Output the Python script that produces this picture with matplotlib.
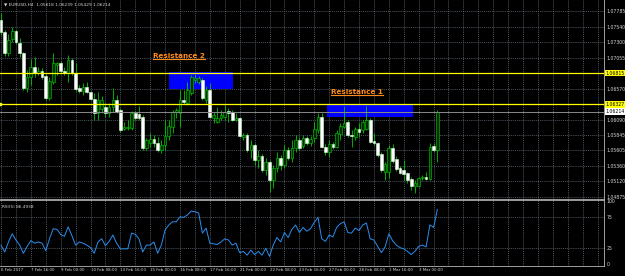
import matplotlib
matplotlib.use('Agg')
import matplotlib.pyplot as plt
import matplotlib.transforms as mtransforms
from matplotlib.patches import Rectangle
from matplotlib.lines import Line2D
import numpy as np

plt.rcParams['font.family'] = ['Liberation Sans Narrow', 'DejaVu Sans']

# EURUSD H4 candles, 6 Feb 2017 08:00 .. 3 Mar 2017 20:00
opens = [1.0765, 1.0746, 1.0713, 1.0735, 1.0748, 1.0729, 1.0713, 1.0658, 1.0676, 1.0691,
         1.0682, 1.0685, 1.0677, 1.0643, 1.0668, 1.0694, 1.0697, 1.0685, 1.0682, 1.0702,
         1.0682, 1.0658, 1.0654, 1.0660, 1.0652, 1.0641, 1.0619, 1.0625, 1.0629, 1.0619,
         1.0629, 1.0640, 1.0624, 1.0594, 1.0596, 1.0596, 1.0619, 1.0618, 1.0613, 1.0564,
         1.0572, 1.0579, 1.0572, 1.0561, 1.0569, 1.0583, 1.0597, 1.0621, 1.0619, 1.0640,
         1.0635, 1.0650, 1.0671, 1.0668, 1.0671, 1.0640, 1.0655, 1.0611, 1.0605, 1.0611,
         1.0613, 1.0622, 1.0621, 1.0608, 1.0611, 1.0582, 1.0585, 1.0561, 1.0569, 1.0546,
         1.0552, 1.0530, 1.0542, 1.0514, 1.0533, 1.0549, 1.0538, 1.0561, 1.0549, 1.0564,
         1.0577, 1.0568, 1.0580, 1.0572, 1.0580, 1.0593, 1.0613, 1.0566, 1.0558, 1.0571,
         1.0566, 1.0586, 1.0597, 1.0605, 1.0585, 1.0582, 1.0594, 1.0593, 1.0594, 1.0608,
         1.0575, 1.0572, 1.0555, 1.0527, 1.0527, 1.0564, 1.0547, 1.0533, 1.0530, 1.0525,
         1.0516, 1.0505, 1.0505, 1.0517, 1.0519, 1.0516, 1.0568, 1.05618]
highs = [1.0776, 1.0749, 1.0743, 1.0754, 1.0749, 1.0737, 1.0715, 1.0686, 1.0704, 1.0707,
         1.0691, 1.0690, 1.0680, 1.0676, 1.0713, 1.0699, 1.0701, 1.0691, 1.0710, 1.0705,
         1.0697, 1.0663, 1.0666, 1.0668, 1.0654, 1.0650, 1.0652, 1.0646, 1.0635, 1.0635,
         1.0658, 1.0647, 1.0627, 1.0605, 1.0608, 1.0622, 1.0622, 1.0630, 1.0616, 1.0580,
         1.0588, 1.0585, 1.0582, 1.0577, 1.0608, 1.0608, 1.0624, 1.0627, 1.0655, 1.0655,
         1.0668, 1.0679, 1.0680, 1.0677, 1.0674, 1.0661, 1.0666, 1.0621, 1.0629, 1.0624,
         1.0632, 1.0627, 1.0624, 1.0619, 1.0613, 1.0588, 1.0588, 1.0577, 1.0572, 1.0561,
         1.0555, 1.0549, 1.0546, 1.0538, 1.0558, 1.0553, 1.0569, 1.0566, 1.0577, 1.0585,
         1.0582, 1.0585, 1.0583, 1.0583, 1.0605, 1.0619, 1.0619, 1.0571, 1.0577, 1.0574,
         1.0593, 1.0604, 1.0630, 1.0608, 1.0593, 1.0597, 1.0604, 1.0608, 1.0630, 1.0611,
         1.0588, 1.0574, 1.0558, 1.0542, 1.0569, 1.0571, 1.0552, 1.0536, 1.0546, 1.0527,
         1.0519, 1.0514, 1.0519, 1.0522, 1.0527, 1.0572, 1.0572, 1.06239]
lows = [1.0741, 1.0708, 1.0708, 1.0730, 1.0727, 1.0707, 1.0655, 1.0652, 1.0663, 1.0676,
        1.0679, 1.0672, 1.0640, 1.0640, 1.0665, 1.0679, 1.0682, 1.0679, 1.0668, 1.0679,
        1.0654, 1.0650, 1.0647, 1.0650, 1.0640, 1.0608, 1.0608, 1.0619, 1.0613, 1.0613,
        1.0621, 1.0619, 1.0589, 1.0593, 1.0593, 1.0593, 1.0608, 1.0608, 1.0561, 1.0561,
        1.0566, 1.0566, 1.0558, 1.0557, 1.0561, 1.0577, 1.0588, 1.0611, 1.0597, 1.0633,
        1.0632, 1.0647, 1.0666, 1.0665, 1.0640, 1.0635, 1.0611, 1.0604, 1.0604, 1.0608,
        1.0608, 1.0605, 1.0607, 1.0607, 1.0582, 1.0577, 1.0558, 1.0549, 1.0538, 1.0533,
        1.0527, 1.0522, 1.0495, 1.0502, 1.0527, 1.0530, 1.0533, 1.0546, 1.0542, 1.0558,
        1.0561, 1.0564, 1.0569, 1.0568, 1.0574, 1.0588, 1.0564, 1.0553, 1.0550, 1.0563,
        1.0564, 1.0577, 1.0596, 1.0582, 1.0566, 1.0577, 1.0582, 1.0588, 1.0593, 1.0572,
        1.0569, 1.0550, 1.0527, 1.0514, 1.0517, 1.0541, 1.0528, 1.0524, 1.0514, 1.0510,
        1.0499, 1.0494, 1.0503, 1.0514, 1.0514, 1.0514, 1.0558, 1.05429]
closes = [1.0746, 1.0713, 1.0733, 1.0748, 1.0730, 1.0713, 1.0658, 1.0676, 1.0691, 1.0682,
          1.0685, 1.0676, 1.0643, 1.0669, 1.0697, 1.0697, 1.0685, 1.0682, 1.0702, 1.0682,
          1.0657, 1.0654, 1.0660, 1.0652, 1.0641, 1.0619, 1.0640, 1.0640, 1.0619, 1.0629,
          1.0640, 1.0621, 1.0593, 1.0597, 1.0597, 1.0619, 1.0611, 1.0611, 1.0564, 1.0577,
          1.0579, 1.0572, 1.0561, 1.0569, 1.0583, 1.0599, 1.0621, 1.0624, 1.0640, 1.0636,
          1.0655, 1.0676, 1.0674, 1.0674, 1.0643, 1.0655, 1.0613, 1.0616, 1.0611, 1.0616,
          1.0621, 1.0619, 1.0608, 1.0611, 1.0583, 1.0585, 1.0561, 1.0569, 1.0546, 1.0552,
          1.0530, 1.0542, 1.0514, 1.0533, 1.0549, 1.0538, 1.0561, 1.0549, 1.0564, 1.0577,
          1.0564, 1.0580, 1.0572, 1.0579, 1.0594, 1.0613, 1.0566, 1.0558, 1.0571, 1.0566,
          1.0588, 1.0599, 1.0604, 1.0585, 1.0583, 1.0594, 1.0589, 1.0605, 1.0608, 1.0574,
          1.0572, 1.0553, 1.0530, 1.0539, 1.0564, 1.0544, 1.0532, 1.0525, 1.0524, 1.0514,
          1.0505, 1.0510, 1.0517, 1.0519, 1.0516, 1.0566, 1.0561, 1.06214]

rsi = [30, 19, 35, 48, 38, 30, 17, 28, 37, 33,
       35, 33, 21, 40, 56, 55, 47, 44, 59, 45,
       30, 35, 33, 30, 26, 17, 35, 40, 29, 36,
       46, 33, 24, 24, 24, 49, 47, 40, 19, 30,
       30, 35, 17, 30, 54, 62, 67, 67, 75, 74,
       78, 84, 83, 81, 49, 57, 33, 32, 31, 35,
       40, 38, 30, 33, 18, 20, 14, 22, 15, 20,
       14, 25, 12, 30, 42, 35, 50, 42, 55, 62,
       50, 58, 52, 56, 66, 74, 40, 36, 46, 43,
       58, 64, 67, 50, 49, 57, 53, 62, 65, 40,
       38, 28, 18, 27, 48, 37, 30, 26, 24, 20,
       15, 20, 28, 30, 27, 62, 58, 86.49]

time_labels = ['6 Feb 2017', '7 Feb 16:00', '9 Feb 00:00', '10 Feb 08:00', '13 Feb 16:00',
               '15 Feb 00:00', '16 Feb 08:00', '17 Feb 16:00', '21 Feb 00:00', '22 Feb 08:00',
               '23 Feb 16:00', '27 Feb 00:00', '28 Feb 08:00', '1 Mar 16:00', '3 Mar 00:00']
price_ticks = [1.07785, 1.07540, 1.07300, 1.07055, 1.06815, 1.06570, 1.06330,
               1.06090, 1.05845, 1.05605, 1.05360, 1.05120, 1.04875]
line_levels = [1.06815, 1.06327]
bid = 1.06214

zone_names = ['Resistance 2', 'Resistance 1']
zone_start = [45.0, 87.4]
zone_end = [62.2, 110.5]
zone_low = [1.0657, 1.0613]
zone_high = [1.0683, 1.0633]
label_x = [40.8, 88.5]
label_y = [1.0708, 1.0652]

title = '\u25bc EURUSD,H4  1.05618 1.06239 1.05429 1.06214'
rsi_title = 'RSI(5) 86.4938'

o = np.array(opens); h = np.array(highs); l = np.array(lows); c = np.array(closes)
idx = np.arange(len(o))
bull = c >= o

W, H = 625, 276
fig = plt.figure(figsize=(W / 100, H / 100), dpi=100, facecolor='black')
ax = fig.add_axes([0, 1 - 199 / H, 604 / W, 199 / H], facecolor='black')
ax2 = fig.add_axes([0, 1 - 266 / H, 604 / W, 66 / H], facecolor='black', sharex=ax)

grid_col = '#66727f'
frame_col = '#b8b8b8'
txt_col = '#d8d8d8'
fs = 3.3

ax.set_xlim(-0.27, 161.7)
ax.set_ylim(1.04846, 1.0796)

# zones (drawn behind the candles)
for s, e, lo, hi in zip(zone_start, zone_end, zone_low, zone_high):
    ax.add_patch(Rectangle((s, lo), e - s, hi - lo, facecolor='#0000ff',
                           edgecolor='none', zorder=1))

# candles
ax.vlines(idx, l, h, color='#00c800', linewidth=0.6, zorder=3)
ax.bar(idx, np.maximum(np.abs(c - o), 0.00004), bottom=np.minimum(o, c), width=0.72,
       color=np.where(bull, '#002a00', '#ffffff'),
       edgecolor=np.where(bull, '#00d800', '#d8ffd8'), linewidth=0.4, zorder=4)

# horizontal levels
for lv in line_levels:
    ax.axhline(lv, color='#ffff00', linewidth=0.9, zorder=5)
    ax.text(1.003, lv, '%.5f' % lv, transform=ax.get_yaxis_transform(), fontsize=fs,
            color='black', va='center', ha='left', clip_on=False,
            bbox=dict(facecolor='#ffff00', edgecolor='none', pad=0.6))
ax.axhline(bid, color='#8a8a8a', linewidth=0.7, zorder=5)
ax.text(1.003, bid, '%.5f' % bid, transform=ax.get_yaxis_transform(), fontsize=fs,
        color='black', va='center', ha='left', clip_on=False,
        bbox=dict(facecolor='white', edgecolor='none', pad=0.6))
ax.plot(ax.get_xlim()[0], line_levels[1], 's', color='#ffff00', markersize=1.8,
        clip_on=False, zorder=6)

# grid and axes
ax.set_xticks(np.arange(0, 162, 4))
ax.set_yticks(price_ticks)
ax.set_yticklabels(['' if any(abs(t - lv) < 0.0001 for lv in line_levels) else '%.5f' % t
                    for t in price_ticks])
ax.yaxis.tick_right()
ax.tick_params(axis='y', length=0, labelsize=fs, labelcolor=txt_col, pad=2)
ax.tick_params(axis='x', length=0, labelbottom=False)
ax.grid(True, color=grid_col, linestyle=(0, (1.5, 1.5)), linewidth=0.5)
ax.set_axisbelow(True)
for side in ['top', 'left']:
    ax.spines[side].set_visible(False)
for side in ['right', 'bottom']:
    ax.spines[side].set_color(frame_col)
    ax.spines[side].set_linewidth(0.6)

ax.text(0.006, 0.976, title, transform=ax.transAxes, fontsize=3.1, color=txt_col,
        va='center', ha='left')

labels = []
for name, x, y in zip(zone_names, label_x, label_y):
    labels.append(ax.text(x, y, name, color='#ff8c1a', fontsize=5.2, fontweight='bold',
                          family='DejaVu Sans', ha='left', va='center', zorder=7))

# RSI panel
ax2.plot(idx, rsi, color='#2a8ff0', linewidth=0.7)
ax2.set_ylim(-3.2, 101.6)
ax2.set_yticks([0, 25, 75, 100])
ax2.yaxis.tick_right()
ax2.tick_params(axis='y', length=0, labelsize=fs, labelcolor=txt_col, pad=2)
ax2.grid(True, color=grid_col, linestyle=(0, (1.5, 1.5)), linewidth=0.5)
gl = ax2.get_ygridlines()
gl[0].set_visible(False)
gl[3].set_visible(False)
ax2.set_axisbelow(True)
ticks = np.arange(0, 162, 4)
ax2.set_xticks(ticks)
ax2.set_xticklabels([time_labels[t // 8] if t % 8 == 0 and t // 8 < len(time_labels) else ''
                     for t in ticks])
ax2.tick_params(axis='x', length=0, labelsize=2.9, labelcolor=txt_col, pad=1.5)
for lab in ax2.get_xticklabels():
    lab.set_horizontalalignment('left')
ax2.spines['left'].set_visible(False)
for side in ['top', 'right', 'bottom']:
    ax2.spines[side].set_color(frame_col)
    ax2.spines[side].set_linewidth(0.6)
ax2.text(0.004, 0.9, rsi_title, transform=ax2.transAxes, fontsize=3.1, color=txt_col,
         va='center', ha='left')

# underline the zone captions
fig.canvas.draw()
for t in labels:
    bb = t.get_window_extent()
    fig.add_artist(Line2D([bb.x0, bb.x1], [bb.y0 + 0.3, bb.y0 + 0.3], color='#ff8c1a',
                          linewidth=0.8, transform=mtransforms.IdentityTransform()))

fig.savefig('out.png', dpi=100, facecolor='black')
